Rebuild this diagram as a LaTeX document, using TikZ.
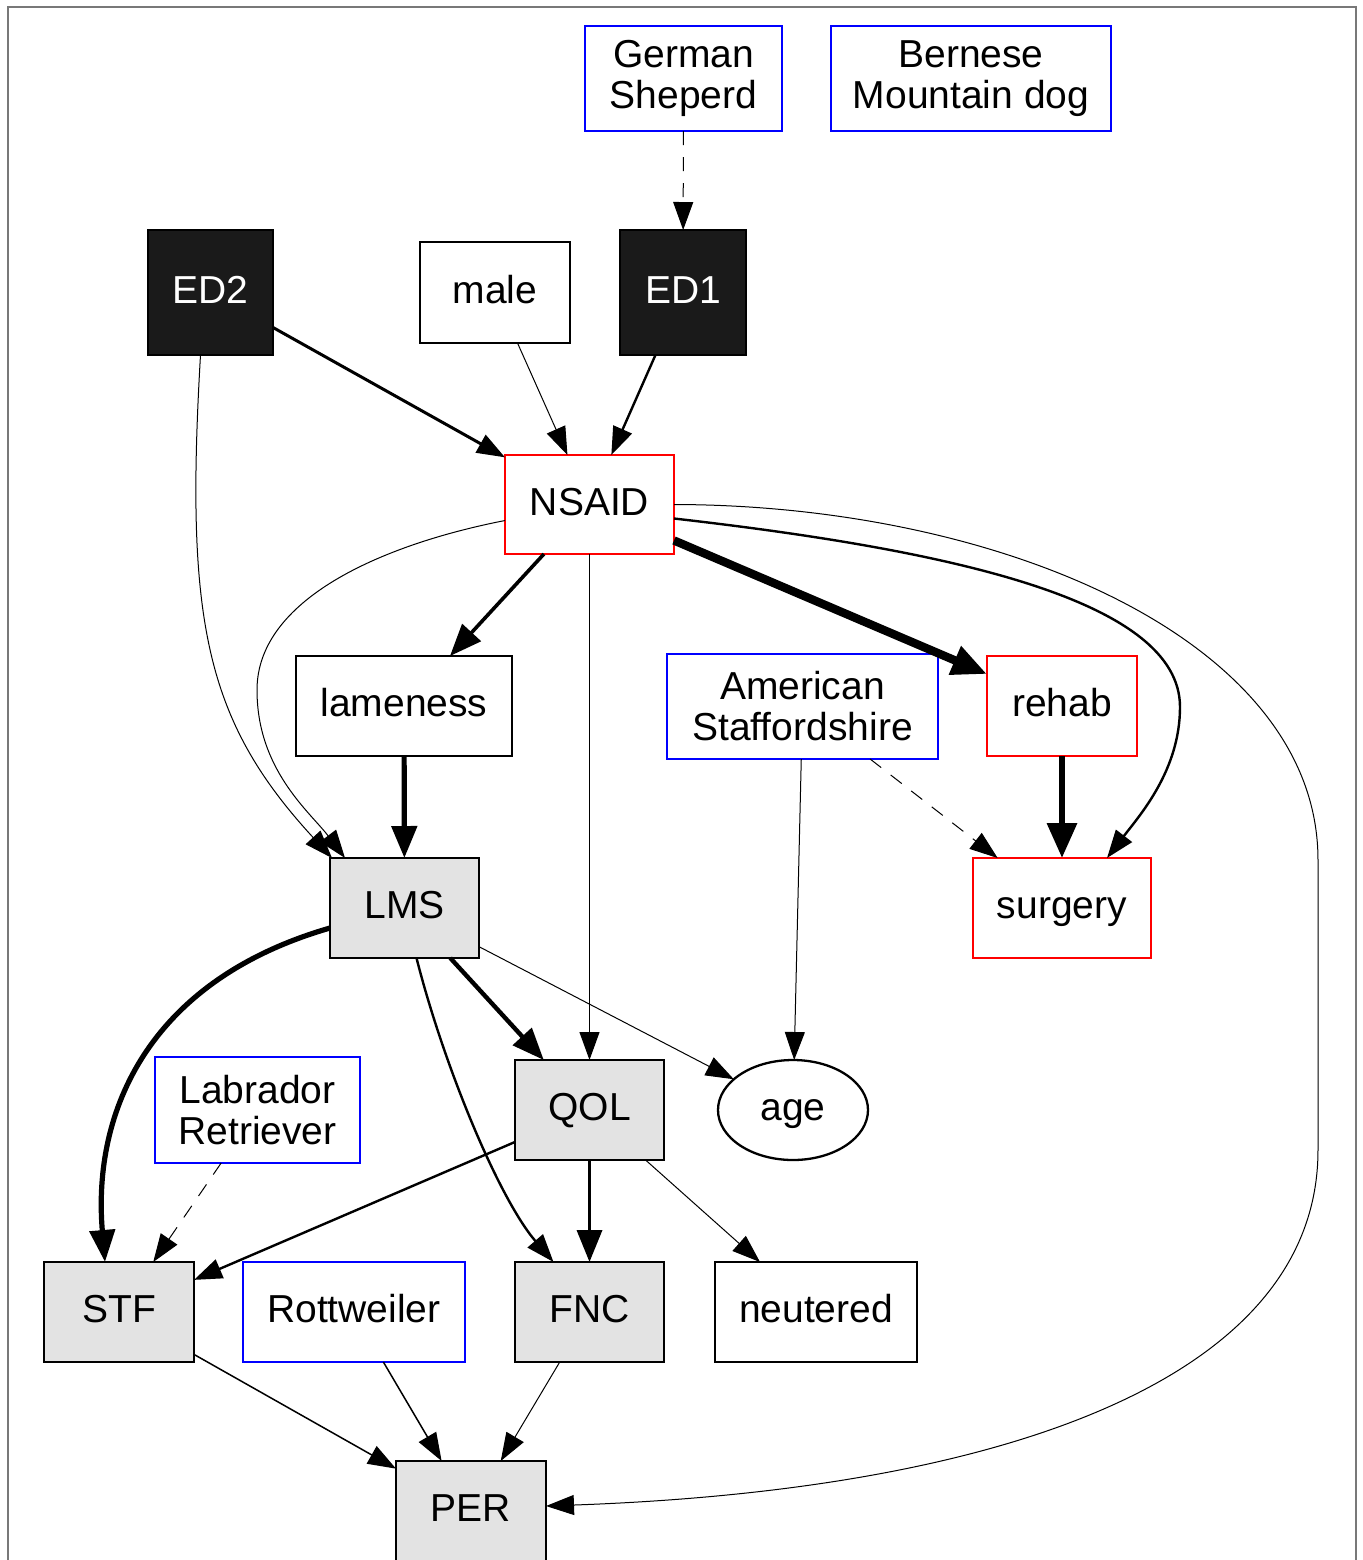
\documentclass[tikz,border=0pt]{standalone}
\usepackage{fontspec}
\setmainfont{Liberation Sans}
\usetikzlibrary{arrows.meta,shapes.geometric}
\definecolor{boxgray}{RGB}{227,227,227}
\definecolor{boxblack}{RGB}{26,26,26}
\definecolor{framegray}{RGB}{120,120,120}
\begin{document}
\begin{tikzpicture}[x=0.5pt,y=-0.5pt,
  every node/.style={font=\fontsize{19.5}{20.5}\selectfont, inner sep=0pt, outer sep=0pt, line width=1.15pt},
  box/.style={draw, rectangle, text height=14.5pt, text depth=4pt, minimum width=75pt, minimum height=50pt},
  boxtwo/.style={draw=blue, rectangle, align=center},
  darkbox/.style={box, fill=boxblack, text=white},
  graybox/.style={box, fill=boxgray},
  redbox/.style={box, draw=red},
  bluebox/.style={box, draw=blue},
  tipA/.style={-{Triangle[length=14pt,width=10pt]}},
  tipB/.style={-{Triangle[length=16pt,width=12.5pt]}},
  tipC/.style={-{Triangle[length=17.5pt,width=14.5pt]}},
  ewA/.style={tipA, line width=0.5pt},
  ewB/.style={tipA, line width=0.75pt},
  ewC/.style={tipA, line width=1.2pt},
  ewD/.style={tipA, line width=1.5pt},
  ewE/.style={tipB, line width=1.8pt},
  ewF/.style={tipB, line width=2.2pt},
  ewG/.style={tipB, line width=2.6pt},
  ewH/.style={tipC, line width=3.2pt},
  ewI/.style={tipC, line width=4.2pt},
  dsh/.style={dash pattern=on 7pt off 6pt}
]
\useasboundingbox (0,0) rectangle (1363,1560);
\draw[framegray, line width=1pt] (7.5,1560) -- (7.5,6.5) -- (1356,6.5) -- (1356,1560);

% nodes
\node[boxtwo, minimum width=98.5pt, minimum height=52.5pt] (GS) at (683.5,78.5) {German\\Sheperd};
\node[boxtwo, minimum width=140pt, minimum height=52.5pt] (BMD) at (971,78.5) {Bernese\\Mountain dog};
\node[darkbox, minimum width=62.5pt, minimum height=62.5pt] (ED2) at (210.5,292.5) {ED2};
\node[box, minimum width=75pt, minimum height=50.5pt] (male) at (495,292.5) {male};
\node[darkbox, minimum width=63pt, minimum height=62.5pt] (ED1) at (683,292.5) {ED1};
\node[redbox, minimum width=84.5pt, minimum height=49.5pt] (NSAID) at (589.5,504.5) {NSAID};
\node[box, minimum width=108pt] (lam) at (404,706) {lameness};
\node[boxtwo, minimum width=135.5pt, minimum height=52.5pt] (AS) at (802.5,706.5) {American\\Staffordshire};
\node[redbox] (rehab) at (1062,706) {rehab};
\node[graybox, minimum width=74.5pt] (LMS) at (404.5,908) {LMS};
\node[redbox, minimum width=89pt] (surg) at (1062,908) {surgery};
\node[boxtwo, minimum width=102.5pt, minimum height=53pt] (LR) at (257.5,1110) {Labrador\\Retriever};
\node[graybox, minimum width=74.5pt] (QOL) at (589.5,1110) {QOL};
\node[draw, ellipse, minimum width=75pt, minimum height=50pt, text height=14.5pt, text depth=4pt] (age) at (793,1110) {age};
\node[graybox] (STF) at (119,1312) {STF};
\node[bluebox, minimum width=111pt] (Rott) at (354,1312) {Rottweiler};
\node[graybox, minimum width=74.5pt] (FNC) at (589.5,1312) {FNC};
\node[box, minimum width=101pt] (neut) at (816,1312) {neutered};
\node[graybox] (PER) at (471,1511) {PER};

% edges
\draw[ewA, dsh] (GS) -- (ED1);
\draw[ewD] (ED2) -- (NSAID);
\draw[ewA] (male) -- (NSAID);
\draw[ewC] (ED1) -- (NSAID);
\draw[ewA] ([xshift=-5pt]ED2.south) .. controls (185,620) and (205,720) .. ([xshift=1pt]LMS.north west);
\draw[ewA] ([yshift=-8pt]NSAID.west) .. controls (380,545) and (257,600) .. (257,690) .. controls (257,770) and (310,812) .. ([xshift=7.5pt]LMS.north west);
\draw[ewE] (NSAID) -- (lam);
\draw[ewA] (NSAID) -- (QOL);
\draw[ewI] (NSAID) -- (rehab);
\draw[ewC] ([yshift=-7pt]NSAID.east) .. controls (950,550) and (1180,600) .. (1180,707) .. controls (1180,770) and (1140,815) .. ([xshift=22.5pt]surg.north);
\draw[ewA] (NSAID.east) .. controls (1000,505) and (1318,640) .. (1318,860) -- (1318,1150) .. controls (1318,1380) and (1000,1490) .. ([yshift=2.5pt]PER.east);
\draw[ewG] (lam) -- (LMS);
\draw[ewA, dsh] (AS) -- (surg);
\draw[ewA] (AS) -- (age);
\draw[ewH] (rehab) -- (surg);
\draw[ewG] ([yshift=-10pt]LMS.west) .. controls (150,980) and (92,1110) .. ([xshift=-7pt]STF.north);
\draw[ewF] (LMS) -- (QOL);
\draw[ewC] ([xshift=6pt]LMS.south) .. controls (445,1070) and (500,1200) .. ([xshift=-18pt]FNC.north);
\draw[ewA] (LMS) -- (age);
\draw[ewA, dsh] (LR) -- (STF);
\draw[ewC] (QOL) -- (STF);
\draw[ewE] (QOL) -- (FNC);
\draw[ewA] (QOL) -- (neut);
\draw[ewB] (STF) -- (PER);
\draw[ewB] (Rott) -- (PER);
\draw[ewA] (FNC) -- (PER);
\end{tikzpicture}
\end{document}
